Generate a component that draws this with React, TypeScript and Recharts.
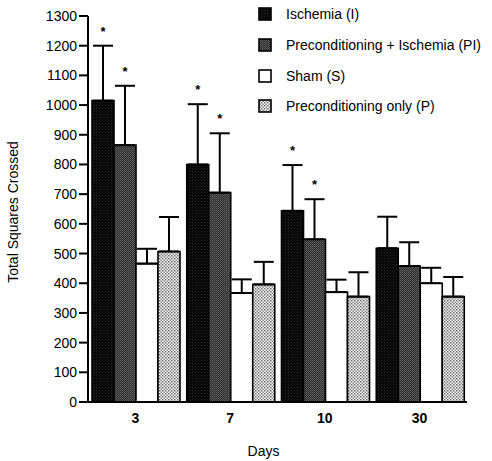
import React from 'react';
import { BarChart, Bar, XAxis, YAxis, ErrorBar, LabelList } from 'recharts';

const days = ['3', '7', '10', '30'];
const ischemia = [1015, 800, 644, 518];
const ischemiaErr = [185, 203, 154, 106];
const precondIsch = [865, 705, 548, 458];
const precondIschErr = [200, 200, 135, 80];
const sham = [466, 367, 370, 400];
const shamErr = [50, 46, 42, 52];
const precondOnly = [507, 396, 355, 355];
const precondOnlyErr = [116, 76, 82, 66];
const ischemiaSig = [true, true, true, false];
const precondIschSig = [true, true, true, false];
const yTicks = [0, 100, 200, 300, 400, 500, 600, 700, 800, 900, 1000, 1100, 1200, 1300];

const FONT = '"Liberation Sans", Arial, Helvetica, sans-serif';

const data = days.map((d, i) => ({
  day: d,
  I: ischemia[i],
  IErr: [0, ischemiaErr[i]],
  PI: precondIsch[i],
  PIErr: [0, precondIschErr[i]],
  S: sham[i],
  SErr: [0, shamErr[i]],
  P: precondOnly[i],
  PErr: [0, precondOnlyErr[i]],
}));

const series = [
  { key: 'I', name: 'Ischemia (I)', fill: 'url(#patI)', vals: ischemia, errs: ischemiaErr, sig: ischemiaSig },
  { key: 'PI', name: 'Preconditioning +  Ischemia (PI)', fill: 'url(#patPI)', vals: precondIsch, errs: precondIschErr, sig: precondIschSig },
  { key: 'S', name: 'Sham (S)', fill: '#ffffff', vals: sham, errs: shamErr, sig: null },
  { key: 'P', name: 'Preconditioning only (P)', fill: 'url(#patP)', vals: precondOnly, errs: precondOnlyErr, sig: null },
];

const makeStar = (vals: number[], errs: number[], sig: boolean[]) => (props: any) => {
  const { x, y, width, height, index } = props;
  if (!sig[index]) return null;
  const ppu = Math.abs(height) / vals[index];
  const top = Math.min(y, y + height) - errs[index] * ppu;
  return (
    <text x={x + width / 2} y={top - 10} textAnchor="middle" fontSize={13} fontWeight="bold" fontFamily={FONT} fill="#000">
      *
    </text>
  );
};

const LegendBox = () => (
  <div style={{ position: 'absolute', left: 258, top: -1, fontFamily: FONT, fontSize: 14, color: '#000' }}>
    {series.map((s) => (
      <div key={s.key} style={{ display: 'flex', alignItems: 'center', height: 30.7, whiteSpace: 'nowrap' }}>
        <svg width={14} height={14} style={{ display: 'block' }}>
          <rect x={1} y={1} width={12} height={12} fill={s.fill} stroke="#000" strokeWidth={1.6} />
        </svg>
        <span style={{ marginLeft: 14 }}>{s.name}</span>
      </div>
    ))}
  </div>
);

const YLabel = (props: any) => {
  const vb = props.viewBox || { x: 0, y: 0, width: 0, height: 0 };
  const cx = vb.x - 15;
  const cy = vb.y + vb.height / 2 + 3;
  return (
    <text x={cx} y={cy} transform={`rotate(-90 ${cx} ${cy})`} textAnchor="middle" dominantBaseline="central" fontSize={14} fontFamily={FONT} fill="#000">
      Total Squares Crossed
    </text>
  );
};

const XLabel = (props: any) => {
  const vb = props.viewBox || { x: 0, y: 0, width: 0, height: 0 };
  const cx = vb.x + vb.width / 2 - 14;
  const cy = vb.y + vb.height + 19;
  return (
    <text x={cx} y={cy} textAnchor="middle" dominantBaseline="central" fontSize={14} fontFamily={FONT} fill="#000">
      Days
    </text>
  );
};

export default function App() {
  return (
    <div style={{ position: 'absolute', left: 0, top: 0, width: 492, height: 461, background: '#fff' }}>
      <BarChart
        width={492}
        height={461}
        data={data}
        margin={{ top: 16, right: 25, left: 28, bottom: 29 }}
        barCategoryGap={4}
        barGap={0}
      >
        <defs>
          <pattern id="patI" width="3" height="3" patternUnits="userSpaceOnUse">
            <rect width="3" height="3" fill="#0a0a0a" />
            <rect width="1" height="1" fill="#222222" />
          </pattern>
          <pattern id="patPI" width="2" height="2" patternUnits="userSpaceOnUse">
            <rect width="2" height="2" fill="#333333" />
            <rect width="1" height="1" fill="#5e5e5e" />
            <rect x="1" y="1" width="1" height="1" fill="#4c4c4c" />
          </pattern>
          <pattern id="patP" width="3" height="3" patternUnits="userSpaceOnUse">
            <rect width="3" height="3" fill="#ffffff" />
            <rect width="1.5" height="1.5" fill="#666666" />
            <rect x="1.5" y="1.5" width="1.5" height="1.5" fill="#888888" />
          </pattern>
        </defs>
        <XAxis
          dataKey="day"
          height={30}
          axisLine={{ stroke: '#000', strokeWidth: 2 }}
          tickLine={false}
          tickSize={9}
          tickMargin={2}
          tick={{ fill: '#000', fontSize: 14, fontWeight: 'bold', fontFamily: FONT }}
          label={<XLabel />}
        />
        <YAxis
          domain={[0, 1300]}
          ticks={yTicks}
          interval={0}
          width={60}
          axisLine={{ stroke: '#000', strokeWidth: 2 }}
          tickLine={{ stroke: '#000', strokeWidth: 2 }}
          tickSize={9}
          tickMargin={2}
          tick={{ fill: '#000', fontSize: 14, fontFamily: FONT }}
          label={<YLabel />}
        />
        {series.map((s) => (
          <Bar key={s.key} dataKey={s.key} name={s.name} fill={s.fill} stroke="#000" strokeWidth={1.6} isAnimationActive={false}>
            <ErrorBar dataKey={`${s.key}Err`} width={10} strokeWidth={2} stroke="#000" direction="y" />
            {s.sig ? <LabelList dataKey={s.key} content={makeStar(s.vals, s.errs, s.sig)} /> : null}
          </Bar>
        ))}
      </BarChart>
      <LegendBox />
    </div>
  );
}
